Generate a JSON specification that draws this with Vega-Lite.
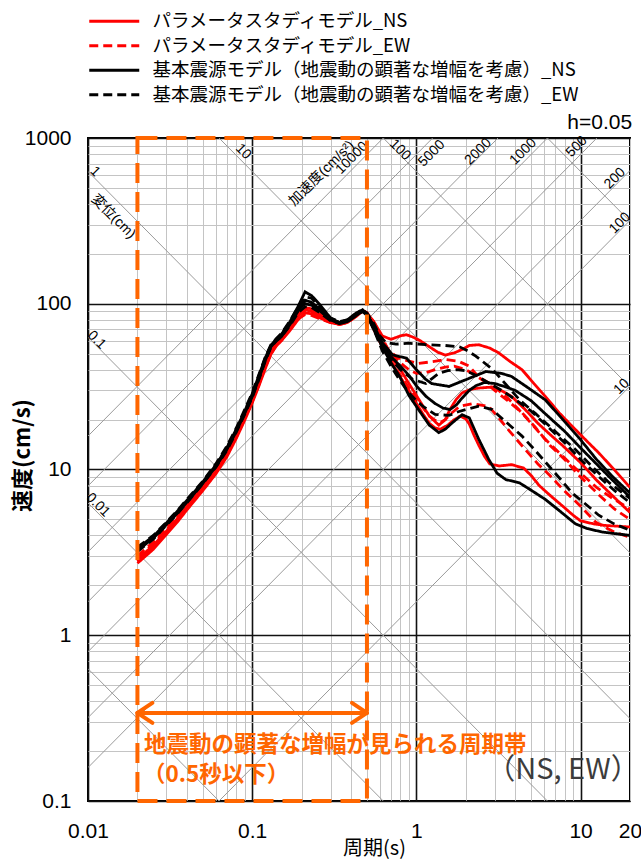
{
  "$schema": "https://vega.github.io/schema/vega-lite/v6.json",
  "width": 542,
  "height": 663,
  "autosize": "none",
  "padding": {"left": 88, "top": 138, "right": 11, "bottom": 61},
  "background": "white",
  "config": {"view": {"stroke": "black", "strokeWidth": 2}, "font": "Liberation Sans"},
  "datasets": {
    "diag": [
      {"g": "d0.001", "T": 0.01, "V": 0.6283}, {"g": "d0.001", "T": 0.06283, "V": 0.1},
      {"g": "d0.01", "T": 0.01, "V": 6.283}, {"g": "d0.01", "T": 0.6283, "V": 0.1},
      {"g": "d0.1", "T": 0.01, "V": 62.83}, {"g": "d0.1", "T": 6.283, "V": 0.1},
      {"g": "d1", "T": 0.01, "V": 628.3}, {"g": "d1", "T": 20, "V": 0.31416},
      {"g": "d10", "T": 0.06283, "V": 1000}, {"g": "d10", "T": 20, "V": 3.1416},
      {"g": "d100", "T": 0.6283, "V": 1000}, {"g": "d100", "T": 20, "V": 31.416},
      {"g": "d1000", "T": 6.283, "V": 1000}, {"g": "d1000", "T": 20, "V": 314.16},
      {"g": "a10", "T": 0.06283, "V": 0.1}, {"g": "a10", "T": 20, "V": 31.831},
      {"g": "a100", "T": 0.01, "V": 0.15915}, {"g": "a100", "T": 20, "V": 318.31},
      {"g": "a200", "T": 0.01, "V": 0.31831}, {"g": "a200", "T": 20, "V": 636.62},
      {"g": "a500", "T": 0.01, "V": 0.79577}, {"g": "a500", "T": 12.566, "V": 1000},
      {"g": "a1000", "T": 0.01, "V": 1.5915}, {"g": "a1000", "T": 6.2832, "V": 1000},
      {"g": "a2000", "T": 0.01, "V": 3.1831}, {"g": "a2000", "T": 3.1416, "V": 1000},
      {"g": "a5000", "T": 0.01, "V": 7.9577}, {"g": "a5000", "T": 1.2566, "V": 1000},
      {"g": "a10000", "T": 0.01, "V": 15.915}, {"g": "a10000", "T": 0.62832, "V": 1000}
    ],
    "dlabels": [
      {"t": "1", "T": 0.01103, "V": 626},
      {"t": "変位(cm)", "T": 0.01426, "V": 335},
      {"t": "10", "T": 0.0883, "V": 827},
      {"t": "100", "T": 0.7946, "V": 846},
      {"t": "0.1", "T": 0.0113, "V": 60.4},
      {"t": "0.01", "T": 0.0115, "V": 6.11}
    ],
    "alabels": [
      {"t": "10000", "T": 0.4053, "V": 757},
      {"t": "加速度(cm/s²)", "T": 0.2651, "V": 612},
      {"t": "5000", "T": 1.239, "V": 808},
      {"t": "2000", "T": 2.382, "V": 827},
      {"t": "1000", "T": 4.477, "V": 827},
      {"t": "500", "T": 9.469, "V": 886},
      {"t": "200", "T": 16.2, "V": 571},
      {"t": "100", "T": 17.38, "V": 306},
      {"t": "10", "T": 17.8, "V": 31.6}
    ],
    "head": [{"t": "h=0.05", "T": 20.6, "V": 1072}],
    "curves": [
      {"s":"RS","c":1,"T":0.02,"V":2.8},{"s":"RS","c":1,"T":0.025,"V":3.4},{"s":"RS","c":1,"T":0.03,"V":4.15},{"s":"RS","c":1,"T":0.035,"V":4.95},{"s":"RS","c":1,"T":0.04,"V":5.85},{"s":"RS","c":1,"T":0.05,"V":7.6},{"s":"RS","c":1,"T":0.06,"V":9.6},{"s":"RS","c":1,"T":0.07,"V":12.2},{"s":"RS","c":1,"T":0.08,"V":15.8},{"s":"RS","c":1,"T":0.09,"V":20.3},{"s":"RS","c":1,"T":0.1,"V":25.8},{"s":"RS","c":1,"T":0.11,"V":32.8},{"s":"RS","c":1,"T":0.12,"V":41.5},{"s":"RS","c":1,"T":0.13,"V":50.5},{"s":"RS","c":1,"T":0.14,"V":56.5},{"s":"RS","c":1,"T":0.15,"V":60.5},{"s":"RS","c":1,"T":0.17,"V":71},{"s":"RS","c":1,"T":0.19,"V":84},{"s":"RS","c":1,"T":0.21,"V":95},{"s":"RS","c":1,"T":0.23,"V":93},{"s":"RS","c":1,"T":0.26,"V":86},{"s":"RS","c":1,"T":0.3,"V":79},{"s":"RS","c":1,"T":0.34,"V":76},{"s":"RS","c":1,"T":0.38,"V":78},{"s":"RS","c":1,"T":0.43,"V":85},{"s":"RS","c":1,"T":0.47,"V":91},{"s":"RS","c":1,"T":0.5,"V":88},
      {"s":"RS","c":1,"T":0.55,"V":78},{"s":"RS","c":1,"T":0.62,"V":64},{"s":"RS","c":1,"T":0.7,"V":61},{"s":"RS","c":1,"T":0.8,"V":64},{"s":"RS","c":1,"T":0.87,"V":65},{"s":"RS","c":1,"T":0.95,"V":63},{"s":"RS","c":1,"T":1.05,"V":60},{"s":"RS","c":1,"T":1.2,"V":55},{"s":"RS","c":1,"T":1.35,"V":51},{"s":"RS","c":1,"T":1.5,"V":49},{"s":"RS","c":1,"T":1.7,"V":50.5},{"s":"RS","c":1,"T":1.9,"V":53},{"s":"RS","c":1,"T":2.1,"V":56},{"s":"RS","c":1,"T":2.4,"V":56.6},{"s":"RS","c":1,"T":2.8,"V":54},{"s":"RS","c":1,"T":3.17,"V":50.6},{"s":"RS","c":1,"T":3.7,"V":45},{"s":"RS","c":1,"T":4.4,"V":40},{"s":"RS","c":1,"T":5.2,"V":33},{"s":"RS","c":1,"T":6.1,"V":27.6},{"s":"RS","c":1,"T":7.4,"V":22},{"s":"RS","c":1,"T":8.9,"V":18.2},{"s":"RS","c":1,"T":10.8,"V":15},{"s":"RS","c":1,"T":12.9,"V":12.6},{"s":"RS","c":1,"T":16,"V":10},{"s":"RS","c":1,"T":20,"V":7.8},

      {"s":"RS","c":2,"T":0.02,"V":2.72},{"s":"RS","c":2,"T":0.025,"V":3.3},{"s":"RS","c":2,"T":0.03,"V":4.05},{"s":"RS","c":2,"T":0.035,"V":4.82},{"s":"RS","c":2,"T":0.04,"V":5.7},{"s":"RS","c":2,"T":0.05,"V":7.45},{"s":"RS","c":2,"T":0.06,"V":9.4},{"s":"RS","c":2,"T":0.07,"V":11.9},{"s":"RS","c":2,"T":0.08,"V":15.4},{"s":"RS","c":2,"T":0.09,"V":19.8},{"s":"RS","c":2,"T":0.1,"V":25.2},{"s":"RS","c":2,"T":0.11,"V":32},{"s":"RS","c":2,"T":0.12,"V":40.5},{"s":"RS","c":2,"T":0.13,"V":49.5},{"s":"RS","c":2,"T":0.14,"V":55.5},{"s":"RS","c":2,"T":0.15,"V":59.5},{"s":"RS","c":2,"T":0.17,"V":69},{"s":"RS","c":2,"T":0.19,"V":80},{"s":"RS","c":2,"T":0.21,"V":88},{"s":"RS","c":2,"T":0.23,"V":87},{"s":"RS","c":2,"T":0.26,"V":82},{"s":"RS","c":2,"T":0.3,"V":77},{"s":"RS","c":2,"T":0.34,"V":75},{"s":"RS","c":2,"T":0.38,"V":77},{"s":"RS","c":2,"T":0.43,"V":84},{"s":"RS","c":2,"T":0.47,"V":90},{"s":"RS","c":2,"T":0.5,"V":87},
      {"s":"RS","c":2,"T":0.55,"V":72},{"s":"RS","c":2,"T":0.62,"V":58},{"s":"RS","c":2,"T":0.7,"V":48},{"s":"RS","c":2,"T":0.8,"V":40},{"s":"RS","c":2,"T":0.9,"V":33},{"s":"RS","c":2,"T":1.0,"V":28},{"s":"RS","c":2,"T":1.1,"V":24},{"s":"RS","c":2,"T":1.2,"V":21},{"s":"RS","c":2,"T":1.37,"V":18.5},{"s":"RS","c":2,"T":1.5,"V":20},{"s":"RS","c":2,"T":1.6,"V":23},{"s":"RS","c":2,"T":1.75,"V":26.5},{"s":"RS","c":2,"T":1.9,"V":29},{"s":"RS","c":2,"T":2.15,"V":30.5},{"s":"RS","c":2,"T":2.4,"V":31},{"s":"RS","c":2,"T":3.0,"V":31.5},{"s":"RS","c":2,"T":3.8,"V":27.6},{"s":"RS","c":2,"T":4.6,"V":23},{"s":"RS","c":2,"T":5.5,"V":19},{"s":"RS","c":2,"T":6.5,"V":16.3},{"s":"RS","c":2,"T":7.8,"V":13.9},{"s":"RS","c":2,"T":10,"V":11},{"s":"RS","c":2,"T":12.4,"V":8.7},{"s":"RS","c":2,"T":16,"V":6.8},{"s":"RS","c":2,"T":20,"V":5.5},

      {"s":"RS","c":3,"T":0.02,"V":2.88},{"s":"RS","c":3,"T":0.025,"V":3.48},{"s":"RS","c":3,"T":0.03,"V":4.25},{"s":"RS","c":3,"T":0.035,"V":5.05},{"s":"RS","c":3,"T":0.04,"V":5.97},{"s":"RS","c":3,"T":0.05,"V":7.8},{"s":"RS","c":3,"T":0.06,"V":9.85},{"s":"RS","c":3,"T":0.07,"V":12.5},{"s":"RS","c":3,"T":0.08,"V":16.2},{"s":"RS","c":3,"T":0.09,"V":20.8},{"s":"RS","c":3,"T":0.1,"V":26.4},{"s":"RS","c":3,"T":0.11,"V":33.6},{"s":"RS","c":3,"T":0.12,"V":42.5},{"s":"RS","c":3,"T":0.13,"V":51.5},{"s":"RS","c":3,"T":0.14,"V":57.5},{"s":"RS","c":3,"T":0.15,"V":61.5},{"s":"RS","c":3,"T":0.17,"V":72},{"s":"RS","c":3,"T":0.19,"V":85},{"s":"RS","c":3,"T":0.21,"V":92},{"s":"RS","c":3,"T":0.23,"V":90},{"s":"RS","c":3,"T":0.26,"V":84},{"s":"RS","c":3,"T":0.3,"V":78},{"s":"RS","c":3,"T":0.34,"V":76},{"s":"RS","c":3,"T":0.38,"V":78},{"s":"RS","c":3,"T":0.43,"V":85},{"s":"RS","c":3,"T":0.47,"V":91},{"s":"RS","c":3,"T":0.5,"V":88},
      {"s":"RS","c":3,"T":0.55,"V":70},{"s":"RS","c":3,"T":0.62,"V":55},{"s":"RS","c":3,"T":0.7,"V":45},{"s":"RS","c":3,"T":0.8,"V":36},{"s":"RS","c":3,"T":0.9,"V":30},{"s":"RS","c":3,"T":1.0,"V":25},{"s":"RS","c":3,"T":1.1,"V":21.5},{"s":"RS","c":3,"T":1.2,"V":19},{"s":"RS","c":3,"T":1.3,"V":17.8},{"s":"RS","c":3,"T":1.4,"V":17.5},{"s":"RS","c":3,"T":1.55,"V":18.5},{"s":"RS","c":3,"T":1.7,"V":20},{"s":"RS","c":3,"T":1.85,"V":21},{"s":"RS","c":3,"T":2.0,"V":20.2},{"s":"RS","c":3,"T":2.1,"V":18.8},{"s":"RS","c":3,"T":2.25,"V":16},{"s":"RS","c":3,"T":2.4,"V":14},{"s":"RS","c":3,"T":2.6,"V":12},{"s":"RS","c":3,"T":2.8,"V":10.8},{"s":"RS","c":3,"T":3.2,"V":10.5},{"s":"RS","c":3,"T":3.8,"V":10.7},{"s":"RS","c":3,"T":4.5,"V":10.2},{"s":"RS","c":3,"T":5.0,"V":9.2},{"s":"RS","c":3,"T":5.6,"V":8.0},{"s":"RS","c":3,"T":6.5,"V":7},{"s":"RS","c":3,"T":7.8,"V":6.0},{"s":"RS","c":3,"T":9,"V":5.3},{"s":"RS","c":3,"T":10,"V":4.9},{"s":"RS","c":3,"T":12,"V":4.7},{"s":"RS","c":3,"T":14,"V":4.6},{"s":"RS","c":3,"T":20,"V":4.5},

      {"s":"RD","c":1,"T":0.02,"V":2.95},{"s":"RD","c":1,"T":0.025,"V":3.55},{"s":"RD","c":1,"T":0.03,"V":4.32},{"s":"RD","c":1,"T":0.035,"V":5.15},{"s":"RD","c":1,"T":0.04,"V":6.08},{"s":"RD","c":1,"T":0.05,"V":7.95},{"s":"RD","c":1,"T":0.06,"V":10},{"s":"RD","c":1,"T":0.07,"V":12.75},{"s":"RD","c":1,"T":0.08,"V":16.5},{"s":"RD","c":1,"T":0.09,"V":21.2},{"s":"RD","c":1,"T":0.1,"V":26.9},{"s":"RD","c":1,"T":0.11,"V":34.2},{"s":"RD","c":1,"T":0.12,"V":43.3},{"s":"RD","c":1,"T":0.13,"V":52.5},{"s":"RD","c":1,"T":0.14,"V":58.5},{"s":"RD","c":1,"T":0.15,"V":62.5},{"s":"RD","c":1,"T":0.17,"V":73},{"s":"RD","c":1,"T":0.19,"V":85},{"s":"RD","c":1,"T":0.21,"V":90},{"s":"RD","c":1,"T":0.23,"V":89},{"s":"RD","c":1,"T":0.26,"V":84},{"s":"RD","c":1,"T":0.3,"V":78},{"s":"RD","c":1,"T":0.34,"V":76},{"s":"RD","c":1,"T":0.38,"V":78},{"s":"RD","c":1,"T":0.43,"V":85},{"s":"RD","c":1,"T":0.47,"V":91},{"s":"RD","c":1,"T":0.5,"V":88},
      {"s":"RD","c":1,"T":0.55,"V":78},{"s":"RD","c":1,"T":0.6,"V":66},{"s":"RD","c":1,"T":0.68,"V":52},{"s":"RD","c":1,"T":0.78,"V":47},{"s":"RD","c":1,"T":0.9,"V":45},{"s":"RD","c":1,"T":1.03,"V":43.6},{"s":"RD","c":1,"T":1.2,"V":44.5},{"s":"RD","c":1,"T":1.4,"V":45.5},{"s":"RD","c":1,"T":1.52,"V":46},{"s":"RD","c":1,"T":1.8,"V":45},{"s":"RD","c":1,"T":2.1,"V":42},{"s":"RD","c":1,"T":2.4,"V":36},{"s":"RD","c":1,"T":2.8,"V":33},{"s":"RD","c":1,"T":3.17,"V":30},{"s":"RD","c":1,"T":3.6,"V":27},{"s":"RD","c":1,"T":4.2,"V":23},{"s":"RD","c":1,"T":5,"V":19},{"s":"RD","c":1,"T":6.1,"V":15.2},{"s":"RD","c":1,"T":7.8,"V":12},{"s":"RD","c":1,"T":9.9,"V":9.6},{"s":"RD","c":1,"T":12.5,"V":7.8},{"s":"RD","c":1,"T":16,"V":6.6},{"s":"RD","c":1,"T":20,"V":5.8},

      {"s":"RD","c":2,"T":0.02,"V":2.8},{"s":"RD","c":2,"T":0.025,"V":3.38},{"s":"RD","c":2,"T":0.03,"V":4.12},{"s":"RD","c":2,"T":0.035,"V":4.9},{"s":"RD","c":2,"T":0.04,"V":5.8},{"s":"RD","c":2,"T":0.05,"V":7.55},{"s":"RD","c":2,"T":0.06,"V":9.55},{"s":"RD","c":2,"T":0.07,"V":12.1},{"s":"RD","c":2,"T":0.08,"V":15.7},{"s":"RD","c":2,"T":0.09,"V":20.2},{"s":"RD","c":2,"T":0.1,"V":25.6},{"s":"RD","c":2,"T":0.11,"V":32.6},{"s":"RD","c":2,"T":0.12,"V":41.2},{"s":"RD","c":2,"T":0.13,"V":50},{"s":"RD","c":2,"T":0.14,"V":56},{"s":"RD","c":2,"T":0.15,"V":60},{"s":"RD","c":2,"T":0.17,"V":70},{"s":"RD","c":2,"T":0.19,"V":81},{"s":"RD","c":2,"T":0.21,"V":86},{"s":"RD","c":2,"T":0.23,"V":85},{"s":"RD","c":2,"T":0.26,"V":81},{"s":"RD","c":2,"T":0.3,"V":77},{"s":"RD","c":2,"T":0.34,"V":75},{"s":"RD","c":2,"T":0.38,"V":77},{"s":"RD","c":2,"T":0.43,"V":84},{"s":"RD","c":2,"T":0.47,"V":90},{"s":"RD","c":2,"T":0.5,"V":87},
      {"s":"RD","c":2,"T":0.55,"V":72},{"s":"RD","c":2,"T":0.62,"V":56},{"s":"RD","c":2,"T":0.7,"V":45},{"s":"RD","c":2,"T":0.8,"V":37},{"s":"RD","c":2,"T":0.9,"V":31},{"s":"RD","c":2,"T":1.0,"V":27},{"s":"RD","c":2,"T":1.1,"V":23.5},{"s":"RD","c":2,"T":1.2,"V":21},{"s":"RD","c":2,"T":1.3,"V":19.8},{"s":"RD","c":2,"T":1.4,"V":19.2},{"s":"RD","c":2,"T":1.5,"V":20},{"s":"RD","c":2,"T":1.6,"V":21.5},{"s":"RD","c":2,"T":1.83,"V":24},{"s":"RD","c":2,"T":2.2,"V":25},{"s":"RD","c":2,"T":2.76,"V":24},{"s":"RD","c":2,"T":3.17,"V":20.5},{"s":"RD","c":2,"T":3.7,"V":17},{"s":"RD","c":2,"T":4.4,"V":13.9},{"s":"RD","c":2,"T":5.5,"V":10.8},{"s":"RD","c":2,"T":6.5,"V":9.2},{"s":"RD","c":2,"T":7.8,"V":7.6},{"s":"RD","c":2,"T":10,"V":6},{"s":"RD","c":2,"T":12.4,"V":4.8},{"s":"RD","c":2,"T":16,"V":4.2},{"s":"RD","c":2,"T":20,"V":3.9},

      {"s":"RD","c":3,"T":0.02,"V":3.02},{"s":"RD","c":3,"T":0.025,"V":3.65},{"s":"RD","c":3,"T":0.03,"V":4.45},{"s":"RD","c":3,"T":0.035,"V":5.3},{"s":"RD","c":3,"T":0.04,"V":6.25},{"s":"RD","c":3,"T":0.05,"V":8.15},{"s":"RD","c":3,"T":0.06,"V":10.3},{"s":"RD","c":3,"T":0.07,"V":13.1},{"s":"RD","c":3,"T":0.08,"V":17},{"s":"RD","c":3,"T":0.09,"V":21.8},{"s":"RD","c":3,"T":0.1,"V":27.6},{"s":"RD","c":3,"T":0.11,"V":35},{"s":"RD","c":3,"T":0.12,"V":44.5},{"s":"RD","c":3,"T":0.13,"V":54},{"s":"RD","c":3,"T":0.14,"V":60},{"s":"RD","c":3,"T":0.15,"V":64},{"s":"RD","c":3,"T":0.17,"V":75},{"s":"RD","c":3,"T":0.19,"V":87},{"s":"RD","c":3,"T":0.21,"V":93},{"s":"RD","c":3,"T":0.23,"V":91},{"s":"RD","c":3,"T":0.26,"V":85},{"s":"RD","c":3,"T":0.3,"V":79},{"s":"RD","c":3,"T":0.34,"V":76},{"s":"RD","c":3,"T":0.38,"V":78},{"s":"RD","c":3,"T":0.43,"V":85},{"s":"RD","c":3,"T":0.47,"V":91},{"s":"RD","c":3,"T":0.5,"V":88},
      {"s":"RD","c":3,"T":0.55,"V":74},{"s":"RD","c":3,"T":0.62,"V":60},{"s":"RD","c":3,"T":0.7,"V":50},{"s":"RD","c":3,"T":0.8,"V":44},{"s":"RD","c":3,"T":0.9,"V":40},{"s":"RD","c":3,"T":1.0,"V":38},{"s":"RD","c":3,"T":1.15,"V":38.5},{"s":"RD","c":3,"T":1.3,"V":40},{"s":"RD","c":3,"T":1.5,"V":41.5},{"s":"RD","c":3,"T":1.7,"V":42},{"s":"RD","c":3,"T":2.0,"V":40},{"s":"RD","c":3,"T":2.2,"V":38},{"s":"RD","c":3,"T":2.6,"V":34},{"s":"RD","c":3,"T":3,"V":30},{"s":"RD","c":3,"T":3.6,"V":26},{"s":"RD","c":3,"T":4.4,"V":22},{"s":"RD","c":3,"T":5.3,"V":18},{"s":"RD","c":3,"T":6.5,"V":14},{"s":"RD","c":3,"T":8,"V":11.5},{"s":"RD","c":3,"T":10,"V":9},{"s":"RD","c":3,"T":13,"V":7},{"s":"RD","c":3,"T":16,"V":5.8},{"s":"RD","c":3,"T":20,"V":5},

      {"s":"BS","c":1,"T":0.02,"V":3.35},{"s":"BS","c":1,"T":0.025,"V":3.95},{"s":"BS","c":1,"T":0.03,"V":4.75},{"s":"BS","c":1,"T":0.035,"V":5.6},{"s":"BS","c":1,"T":0.04,"V":6.5},{"s":"BS","c":1,"T":0.05,"V":8.4},{"s":"BS","c":1,"T":0.06,"V":10.6},{"s":"BS","c":1,"T":0.07,"V":13.5},{"s":"BS","c":1,"T":0.08,"V":17.5},{"s":"BS","c":1,"T":0.09,"V":22.5},{"s":"BS","c":1,"T":0.1,"V":28.5},{"s":"BS","c":1,"T":0.11,"V":37},{"s":"BS","c":1,"T":0.12,"V":47},{"s":"BS","c":1,"T":0.13,"V":56},{"s":"BS","c":1,"T":0.14,"V":61},{"s":"BS","c":1,"T":0.15,"V":65},{"s":"BS","c":1,"T":0.17,"V":78},{"s":"BS","c":1,"T":0.19,"V":96},{"s":"BS","c":1,"T":0.21,"V":118},{"s":"BS","c":1,"T":0.23,"V":112},{"s":"BS","c":1,"T":0.26,"V":98},{"s":"BS","c":1,"T":0.3,"V":82},{"s":"BS","c":1,"T":0.34,"V":77},{"s":"BS","c":1,"T":0.38,"V":80},{"s":"BS","c":1,"T":0.43,"V":88},{"s":"BS","c":1,"T":0.47,"V":92},{"s":"BS","c":1,"T":0.5,"V":86},
      {"s":"BS","c":1,"T":0.55,"V":74},{"s":"BS","c":1,"T":0.62,"V":58},{"s":"BS","c":1,"T":0.72,"V":49},{"s":"BS","c":1,"T":0.87,"V":47},{"s":"BS","c":1,"T":1.0,"V":40},{"s":"BS","c":1,"T":1.14,"V":35},{"s":"BS","c":1,"T":1.24,"V":33},{"s":"BS","c":1,"T":1.58,"V":31.7},{"s":"BS","c":1,"T":2.0,"V":34.8},{"s":"BS","c":1,"T":2.65,"V":39},{"s":"BS","c":1,"T":3.3,"V":38},{"s":"BS","c":1,"T":3.8,"V":36.4},{"s":"BS","c":1,"T":4.6,"V":32},{"s":"BS","c":1,"T":6.1,"V":26.3},{"s":"BS","c":1,"T":7.8,"V":20},{"s":"BS","c":1,"T":9.9,"V":15.3},{"s":"BS","c":1,"T":12.5,"V":11.5},{"s":"BS","c":1,"T":15.6,"V":9.1},{"s":"BS","c":1,"T":20,"V":7.2},

      {"s":"BS","c":2,"T":0.02,"V":3.25},{"s":"BS","c":2,"T":0.025,"V":3.85},{"s":"BS","c":2,"T":0.03,"V":4.65},{"s":"BS","c":2,"T":0.035,"V":5.45},{"s":"BS","c":2,"T":0.04,"V":6.35},{"s":"BS","c":2,"T":0.05,"V":8.25},{"s":"BS","c":2,"T":0.06,"V":10.4},{"s":"BS","c":2,"T":0.07,"V":13.2},{"s":"BS","c":2,"T":0.08,"V":17},{"s":"BS","c":2,"T":0.09,"V":21.8},{"s":"BS","c":2,"T":0.1,"V":27.5},{"s":"BS","c":2,"T":0.11,"V":35.5},{"s":"BS","c":2,"T":0.12,"V":45.5},{"s":"BS","c":2,"T":0.13,"V":55},{"s":"BS","c":2,"T":0.14,"V":60},{"s":"BS","c":2,"T":0.15,"V":63},{"s":"BS","c":2,"T":0.17,"V":75},{"s":"BS","c":2,"T":0.19,"V":90},{"s":"BS","c":2,"T":0.21,"V":105},{"s":"BS","c":2,"T":0.23,"V":102},{"s":"BS","c":2,"T":0.26,"V":92},{"s":"BS","c":2,"T":0.3,"V":80},{"s":"BS","c":2,"T":0.34,"V":76},{"s":"BS","c":2,"T":0.38,"V":78},{"s":"BS","c":2,"T":0.43,"V":85},{"s":"BS","c":2,"T":0.47,"V":90},{"s":"BS","c":2,"T":0.5,"V":85},
      {"s":"BS","c":2,"T":0.55,"V":70},{"s":"BS","c":2,"T":0.62,"V":55},{"s":"BS","c":2,"T":0.7,"V":44},{"s":"BS","c":2,"T":0.79,"V":36.5},{"s":"BS","c":2,"T":0.9,"V":28},{"s":"BS","c":2,"T":1.03,"V":23},{"s":"BS","c":2,"T":1.2,"V":18.5},{"s":"BS","c":2,"T":1.37,"V":16.7},{"s":"BS","c":2,"T":1.5,"V":17.5},{"s":"BS","c":2,"T":1.66,"V":19.2},{"s":"BS","c":2,"T":1.9,"V":21.4},{"s":"BS","c":2,"T":2.1,"V":20.5},{"s":"BS","c":2,"T":2.4,"V":15.2},{"s":"BS","c":2,"T":2.76,"V":11.5},{"s":"BS","c":2,"T":3.1,"V":9.5},{"s":"BS","c":2,"T":3.5,"V":8.7},{"s":"BS","c":2,"T":4.25,"V":8.3},{"s":"BS","c":2,"T":5,"V":7.5},{"s":"BS","c":2,"T":6.1,"V":6.6},{"s":"BS","c":2,"T":7.5,"V":5.6},{"s":"BS","c":2,"T":9.3,"V":4.7},{"s":"BS","c":2,"T":11,"V":4.4},{"s":"BS","c":2,"T":13.5,"V":4.2},{"s":"BS","c":2,"T":20,"V":4.0},

      {"s":"BS","c":3,"T":0.02,"V":3.3},{"s":"BS","c":3,"T":0.025,"V":3.9},{"s":"BS","c":3,"T":0.03,"V":4.7},{"s":"BS","c":3,"T":0.035,"V":5.5},{"s":"BS","c":3,"T":0.04,"V":6.4},{"s":"BS","c":3,"T":0.05,"V":8.3},{"s":"BS","c":3,"T":0.06,"V":10.5},{"s":"BS","c":3,"T":0.07,"V":13.3},{"s":"BS","c":3,"T":0.08,"V":17.2},{"s":"BS","c":3,"T":0.09,"V":22},{"s":"BS","c":3,"T":0.1,"V":28},{"s":"BS","c":3,"T":0.11,"V":36},{"s":"BS","c":3,"T":0.12,"V":46},{"s":"BS","c":3,"T":0.13,"V":55.5},{"s":"BS","c":3,"T":0.14,"V":60.5},{"s":"BS","c":3,"T":0.15,"V":64},{"s":"BS","c":3,"T":0.17,"V":76},{"s":"BS","c":3,"T":0.19,"V":92},{"s":"BS","c":3,"T":0.21,"V":100},{"s":"BS","c":3,"T":0.23,"V":98},{"s":"BS","c":3,"T":0.26,"V":90},{"s":"BS","c":3,"T":0.3,"V":80},{"s":"BS","c":3,"T":0.34,"V":77},{"s":"BS","c":3,"T":0.38,"V":79},{"s":"BS","c":3,"T":0.43,"V":86},{"s":"BS","c":3,"T":0.47,"V":91},{"s":"BS","c":3,"T":0.5,"V":87},
      {"s":"BS","c":3,"T":0.55,"V":72},{"s":"BS","c":3,"T":0.62,"V":57},{"s":"BS","c":3,"T":0.7,"V":48},{"s":"BS","c":3,"T":0.8,"V":42},{"s":"BS","c":3,"T":0.9,"V":37},{"s":"BS","c":3,"T":1.0,"V":32},{"s":"BS","c":3,"T":1.15,"V":27.5},{"s":"BS","c":3,"T":1.3,"V":25},{"s":"BS","c":3,"T":1.45,"V":23.5},{"s":"BS","c":3,"T":1.6,"V":23},{"s":"BS","c":3,"T":1.75,"V":24.5},{"s":"BS","c":3,"T":1.9,"V":27},{"s":"BS","c":3,"T":2.1,"V":30},{"s":"BS","c":3,"T":2.3,"V":32},{"s":"BS","c":3,"T":2.6,"V":33.5},{"s":"BS","c":3,"T":3,"V":33},{"s":"BS","c":3,"T":3.5,"V":31.5},{"s":"BS","c":3,"T":4,"V":30},{"s":"BS","c":3,"T":5,"V":26},{"s":"BS","c":3,"T":6,"V":22},{"s":"BS","c":3,"T":8,"V":17},{"s":"BS","c":3,"T":10,"V":13.5},{"s":"BS","c":3,"T":12.5,"V":10.8},{"s":"BS","c":3,"T":15,"V":9},{"s":"BS","c":3,"T":20,"V":6.8},

      {"s":"BD","c":1,"T":0.02,"V":3.4},{"s":"BD","c":1,"T":0.025,"V":4.0},{"s":"BD","c":1,"T":0.03,"V":4.8},{"s":"BD","c":1,"T":0.035,"V":5.65},{"s":"BD","c":1,"T":0.04,"V":6.6},{"s":"BD","c":1,"T":0.05,"V":8.5},{"s":"BD","c":1,"T":0.06,"V":10.8},{"s":"BD","c":1,"T":0.07,"V":13.8},{"s":"BD","c":1,"T":0.08,"V":17.8},{"s":"BD","c":1,"T":0.09,"V":23},{"s":"BD","c":1,"T":0.1,"V":29},{"s":"BD","c":1,"T":0.11,"V":37.5},{"s":"BD","c":1,"T":0.12,"V":47.5},{"s":"BD","c":1,"T":0.13,"V":56.5},{"s":"BD","c":1,"T":0.14,"V":61.5},{"s":"BD","c":1,"T":0.15,"V":66},{"s":"BD","c":1,"T":0.17,"V":79},{"s":"BD","c":1,"T":0.19,"V":95},{"s":"BD","c":1,"T":0.21,"V":110},{"s":"BD","c":1,"T":0.23,"V":108},{"s":"BD","c":1,"T":0.26,"V":95},{"s":"BD","c":1,"T":0.3,"V":82},{"s":"BD","c":1,"T":0.34,"V":78},{"s":"BD","c":1,"T":0.38,"V":80},{"s":"BD","c":1,"T":0.43,"V":87},{"s":"BD","c":1,"T":0.47,"V":92},{"s":"BD","c":1,"T":0.5,"V":88},
      {"s":"BD","c":1,"T":0.55,"V":76},{"s":"BD","c":1,"T":0.6,"V":64},{"s":"BD","c":1,"T":0.65,"V":58.5},{"s":"BD","c":1,"T":0.75,"V":57},{"s":"BD","c":1,"T":0.9,"V":57.8},{"s":"BD","c":1,"T":1.14,"V":56.6},{"s":"BD","c":1,"T":1.5,"V":56},{"s":"BD","c":1,"T":1.83,"V":55},{"s":"BD","c":1,"T":2.05,"V":52},{"s":"BD","c":1,"T":2.3,"V":48.3},{"s":"BD","c":1,"T":2.9,"V":40.4},{"s":"BD","c":1,"T":3.6,"V":31.7},{"s":"BD","c":1,"T":4.3,"V":26},{"s":"BD","c":1,"T":5.3,"V":21.8},{"s":"BD","c":1,"T":7,"V":17},{"s":"BD","c":1,"T":9.3,"V":13.2},{"s":"BD","c":1,"T":12,"V":10.2},{"s":"BD","c":1,"T":15,"V":8.3},{"s":"BD","c":1,"T":20,"V":6.7},

      {"s":"BD","c":2,"T":0.02,"V":3.3},{"s":"BD","c":2,"T":0.025,"V":3.9},{"s":"BD","c":2,"T":0.03,"V":4.7},{"s":"BD","c":2,"T":0.035,"V":5.5},{"s":"BD","c":2,"T":0.04,"V":6.45},{"s":"BD","c":2,"T":0.05,"V":8.35},{"s":"BD","c":2,"T":0.06,"V":10.6},{"s":"BD","c":2,"T":0.07,"V":13.5},{"s":"BD","c":2,"T":0.08,"V":17.4},{"s":"BD","c":2,"T":0.09,"V":22.3},{"s":"BD","c":2,"T":0.1,"V":28.2},{"s":"BD","c":2,"T":0.11,"V":36.5},{"s":"BD","c":2,"T":0.12,"V":46.5},{"s":"BD","c":2,"T":0.13,"V":55.5},{"s":"BD","c":2,"T":0.14,"V":61},{"s":"BD","c":2,"T":0.15,"V":65},{"s":"BD","c":2,"T":0.17,"V":77},{"s":"BD","c":2,"T":0.19,"V":92},{"s":"BD","c":2,"T":0.21,"V":102},{"s":"BD","c":2,"T":0.23,"V":100},{"s":"BD","c":2,"T":0.26,"V":91},{"s":"BD","c":2,"T":0.3,"V":81},{"s":"BD","c":2,"T":0.34,"V":77},{"s":"BD","c":2,"T":0.38,"V":79},{"s":"BD","c":2,"T":0.43,"V":86},{"s":"BD","c":2,"T":0.47,"V":91},{"s":"BD","c":2,"T":0.5,"V":87},
      {"s":"BD","c":2,"T":0.55,"V":72},{"s":"BD","c":2,"T":0.62,"V":55},{"s":"BD","c":2,"T":0.7,"V":46},{"s":"BD","c":2,"T":0.8,"V":40},{"s":"BD","c":2,"T":0.95,"V":35},{"s":"BD","c":2,"T":1.14,"V":33},{"s":"BD","c":2,"T":1.25,"V":35.5},{"s":"BD","c":2,"T":1.37,"V":38},{"s":"BD","c":2,"T":1.55,"V":39.5},{"s":"BD","c":2,"T":1.75,"V":40},{"s":"BD","c":2,"T":2.0,"V":39.5},{"s":"BD","c":2,"T":2.3,"V":37},{"s":"BD","c":2,"T":2.8,"V":33},{"s":"BD","c":2,"T":3.3,"V":30},{"s":"BD","c":2,"T":4,"V":26.5},{"s":"BD","c":2,"T":5,"V":22.5},{"s":"BD","c":2,"T":6,"V":19},{"s":"BD","c":2,"T":8,"V":14.5},{"s":"BD","c":2,"T":10,"V":11.5},{"s":"BD","c":2,"T":13,"V":9},{"s":"BD","c":2,"T":16,"V":7.5},{"s":"BD","c":2,"T":20,"V":6.3},

      {"s":"BD","c":3,"T":0.02,"V":3.2},{"s":"BD","c":3,"T":0.025,"V":3.8},{"s":"BD","c":3,"T":0.03,"V":4.6},{"s":"BD","c":3,"T":0.035,"V":5.4},{"s":"BD","c":3,"T":0.04,"V":6.3},{"s":"BD","c":3,"T":0.05,"V":8.2},{"s":"BD","c":3,"T":0.06,"V":10.3},{"s":"BD","c":3,"T":0.07,"V":13},{"s":"BD","c":3,"T":0.08,"V":16.8},{"s":"BD","c":3,"T":0.09,"V":21.5},{"s":"BD","c":3,"T":0.1,"V":27.2},{"s":"BD","c":3,"T":0.11,"V":35},{"s":"BD","c":3,"T":0.12,"V":45},{"s":"BD","c":3,"T":0.13,"V":54.5},{"s":"BD","c":3,"T":0.14,"V":59.5},{"s":"BD","c":3,"T":0.15,"V":63},{"s":"BD","c":3,"T":0.17,"V":74},{"s":"BD","c":3,"T":0.19,"V":88},{"s":"BD","c":3,"T":0.21,"V":96},{"s":"BD","c":3,"T":0.23,"V":95},{"s":"BD","c":3,"T":0.26,"V":88},{"s":"BD","c":3,"T":0.3,"V":79},{"s":"BD","c":3,"T":0.34,"V":76},{"s":"BD","c":3,"T":0.38,"V":78},{"s":"BD","c":3,"T":0.43,"V":85},{"s":"BD","c":3,"T":0.47,"V":90},{"s":"BD","c":3,"T":0.5,"V":86},
      {"s":"BD","c":3,"T":0.55,"V":70},{"s":"BD","c":3,"T":0.62,"V":52},{"s":"BD","c":3,"T":0.7,"V":42},{"s":"BD","c":3,"T":0.8,"V":34},{"s":"BD","c":3,"T":0.9,"V":29},{"s":"BD","c":3,"T":1.0,"V":26},{"s":"BD","c":3,"T":1.1,"V":24},{"s":"BD","c":3,"T":1.3,"V":21.5},{"s":"BD","c":3,"T":1.58,"V":21.2},{"s":"BD","c":3,"T":1.8,"V":22.3},{"s":"BD","c":3,"T":2.0,"V":23},{"s":"BD","c":3,"T":2.4,"V":24.1},{"s":"BD","c":3,"T":2.9,"V":23},{"s":"BD","c":3,"T":3.17,"V":21.2},{"s":"BD","c":3,"T":3.7,"V":18.5},{"s":"BD","c":3,"T":4.4,"V":15.9},{"s":"BD","c":3,"T":5.2,"V":13.3},{"s":"BD","c":3,"T":6.1,"V":11.1},{"s":"BD","c":3,"T":7.5,"V":8.8},{"s":"BD","c":3,"T":8.9,"V":7.2},{"s":"BD","c":3,"T":10.5,"V":6.3},{"s":"BD","c":3,"T":12.9,"V":5.3},{"s":"BD","c":3,"T":16,"V":4.7},{"s":"BD","c":3,"T":20,"V":4.3}
    ],
    "band": [{"T": 0.02, "T2": 0.5, "V": 0.1, "V2": 1000}],
    "arrow": [
      {"g": "shaft", "T": 0.02, "V": 0.34}, {"g": "shaft", "T": 0.5, "V": 0.34},
      {"g": "lu", "T": 0.02, "V": 0.34}, {"g": "lu", "T": 0.02468, "V": 0.3907},
      {"g": "ll", "T": 0.02, "V": 0.34}, {"g": "ll", "T": 0.02468, "V": 0.2959},
      {"g": "ru", "T": 0.4052, "V": 0.3907}, {"g": "ru", "T": 0.5, "V": 0.34},
      {"g": "rl", "T": 0.4052, "V": 0.2959}, {"g": "rl", "T": 0.5, "V": 0.34}
    ],
    "note": [
      {"t": "地震動の顕著な増幅が見られる周期帯", "T": 0.02194, "V": 0.218},
      {"t": "（0.5秒以下）", "T": 0.0216, "V": 0.1435}
    ],
    "comp": [{"t": "（NS, EW）", "T": 22.9, "V": 0.154}]
  },
  "encoding": {
    "x": {
      "field": "T", "type": "quantitative",
      "scale": {"type": "log", "domain": [0.01, 20], "nice": false},
      "axis": {
        "values": [0.01,0.02,0.03,0.04,0.05,0.06,0.07,0.08,0.09,0.1,0.2,0.3,0.4,0.5,0.6,0.7,0.8,0.9,1,2,3,4,5,6,7,8,9,10,20],
        "labelExpr": "datum.value==0.01?'0.01':datum.value==0.1?'0.1':datum.value==1?'1':datum.value==10?'10':datum.value==20?'20':''",
        "labelOverlap": false, "labelFlush": false, "ticks": false, "domain": false,
        "labelFont": "Liberation Sans", "labelFontSize": 21, "labelColor": "black", "labelPadding": 19,
        "grid": true,
        "gridColor": {"condition": {"test": "datum.value==0.01||datum.value==0.1||datum.value==1||datum.value==10", "value": "#111111"}, "value": "#c4c4c4"},
        "gridWidth": {"condition": {"test": "datum.value==0.01||datum.value==0.1||datum.value==1||datum.value==10", "value": 1.6}, "value": 1},
        "title": "周期(s)", "titleFont": "Noto Sans CJK JP", "titleFontSize": 20, "titleFontWeight": "normal", "titleColor": "black",
        "titleX": 286, "titleY": 47, "titleBaseline": "middle", "titleAnchor": "middle"
      }
    },
    "y": {
      "field": "V", "type": "quantitative",
      "scale": {"type": "log", "domain": [0.1, 1000], "nice": false},
      "axis": {
        "values": [0.1,0.2,0.3,0.4,0.5,0.6,0.7,0.8,0.9,1,2,3,4,5,6,7,8,9,10,20,30,40,50,60,70,80,90,100,200,300,400,500,600,700,800,900,1000],
        "labelExpr": "datum.value==0.1?'0.1':datum.value==1?'1':datum.value==10?'10':datum.value==100?'100':datum.value==1000?'1000':''",
        "labelOverlap": false, "labelFlush": false, "ticks": false, "domain": false,
        "labelFont": "Liberation Sans", "labelFontSize": 21, "labelColor": "black", "labelPadding": 17,
        "grid": true,
        "gridColor": {"condition": {"test": "datum.value==0.1||datum.value==1||datum.value==10||datum.value==100||datum.value==1000", "value": "#111111"}, "value": "#c4c4c4"},
        "gridWidth": {"condition": {"test": "datum.value==0.1||datum.value==1||datum.value==10||datum.value==100||datum.value==1000", "value": 1.6}, "value": 1},
        "title": "速度(cm/s)", "titleFont": "Noto Sans CJK JP", "titleFontSize": 22, "titleFontWeight": "bold", "titleColor": "black",
        "titleX": -66, "titleY": 317, "titleAngle": 270, "titleBaseline": "middle", "titleAlign": "center"
      }
    }
  },
  "layer": [
    {
      "data": {"name": "diag"},
      "mark": {"type": "line", "color": "#9a9a9a", "strokeWidth": 1, "clip": true},
      "encoding": {"detail": {"field": "g"}}
    },
    {
      "data": {"name": "dlabels"},
      "mark": {"type": "text", "angle": 45, "font": "Liberation Sans, Noto Sans CJK JP", "fontSize": 14, "color": "black", "align": "center", "baseline": "middle"},
      "encoding": {"text": {"field": "t"}}
    },
    {
      "data": {"name": "alabels"},
      "mark": {"type": "text", "angle": 315, "font": "Liberation Sans, Noto Sans CJK JP", "fontSize": 14, "color": "black", "align": "center", "baseline": "middle"},
      "encoding": {"text": {"field": "t"}}
    },
    {
      "data": {"name": "head"},
      "mark": {"type": "text", "font": "Liberation Sans", "fontSize": 21, "color": "black", "align": "right", "baseline": "bottom"},
      "encoding": {"text": {"field": "t"}}
    },
    {
      "data": {"name": "curves"},
      "mark": {"type": "line", "strokeWidth": 2.8, "clip": true},
      "encoding": {
        "color": {
          "field": "s", "type": "nominal",
          "scale": {"domain": ["RS", "RD", "BS", "BD"], "range": ["#ff0000", "#ff0000", "#000000", "#000000"]},
          "legend": {
            "orient": "none", "legendX": 17, "legendY": -126, "title": null, "padding": 0,
            "symbolType": "M-5,0H5", "symbolSize": 100, "symbolStrokeWidth": 3,
            "labelFont": "Noto Sans CJK JP", "labelFontSize": 18.5, "labelColor": "black", "labelOffset": 29, "labelLimit": 600,
            "rowPadding": 5.5,
            "labelExpr": "datum.value=='RS'?'パラメータスタディモデル_NS':datum.value=='RD'?'パラメータスタディモデル_EW':datum.value=='BS'?'基本震源モデル（地震動の顕著な増幅を考慮）_NS':'基本震源モデル（地震動の顕著な増幅を考慮）_EW'"
          }
        },
        "strokeDash": {
          "field": "s", "type": "nominal",
          "scale": {"domain": ["RS", "RD", "BS", "BD"], "range": [[1, 0], [9, 5], [1, 0], [9, 5]]},
          "legend": {
            "orient": "none", "legendX": 17, "legendY": -126, "title": null, "padding": 0,
            "symbolType": "M-5,0H5", "symbolSize": 100, "symbolStrokeWidth": 3,
            "labelFont": "Noto Sans CJK JP", "labelFontSize": 18.5, "labelColor": "black", "labelOffset": 29, "labelLimit": 600,
            "rowPadding": 5.5,
            "labelExpr": "datum.value=='RS'?'パラメータスタディモデル_NS':datum.value=='RD'?'パラメータスタディモデル_EW':datum.value=='BS'?'基本震源モデル（地震動の顕著な増幅を考慮）_NS':'基本震源モデル（地震動の顕著な増幅を考慮）_EW'"
          }
        },
        "detail": {"field": "c"}
      }
    },
    {
      "data": {"name": "band"},
      "mark": {"type": "rect", "filled": false, "stroke": "#ff6600", "strokeWidth": 4, "strokeDash": [20, 9]},
      "encoding": {"x2": {"field": "T2"}, "y2": {"field": "V2"}}
    },
    {
      "data": {"name": "arrow"},
      "mark": {"type": "line", "color": "#ff6600", "strokeWidth": 4, "strokeCap": "round"},
      "encoding": {"detail": {"field": "g"}}
    },
    {
      "data": {"name": "note"},
      "mark": {"type": "text", "font": "Noto Sans CJK JP", "fontSize": 22.5, "fontWeight": "bold", "color": "#ff6600", "align": "left", "baseline": "middle"},
      "encoding": {"text": {"field": "t"}}
    },
    {
      "data": {"name": "comp"},
      "mark": {"type": "text", "font": "Noto Sans CJK JP", "fontSize": 29, "color": "#3c3c3c", "align": "right", "baseline": "middle"},
      "encoding": {"text": {"field": "t"}}
    }
  ]
}
